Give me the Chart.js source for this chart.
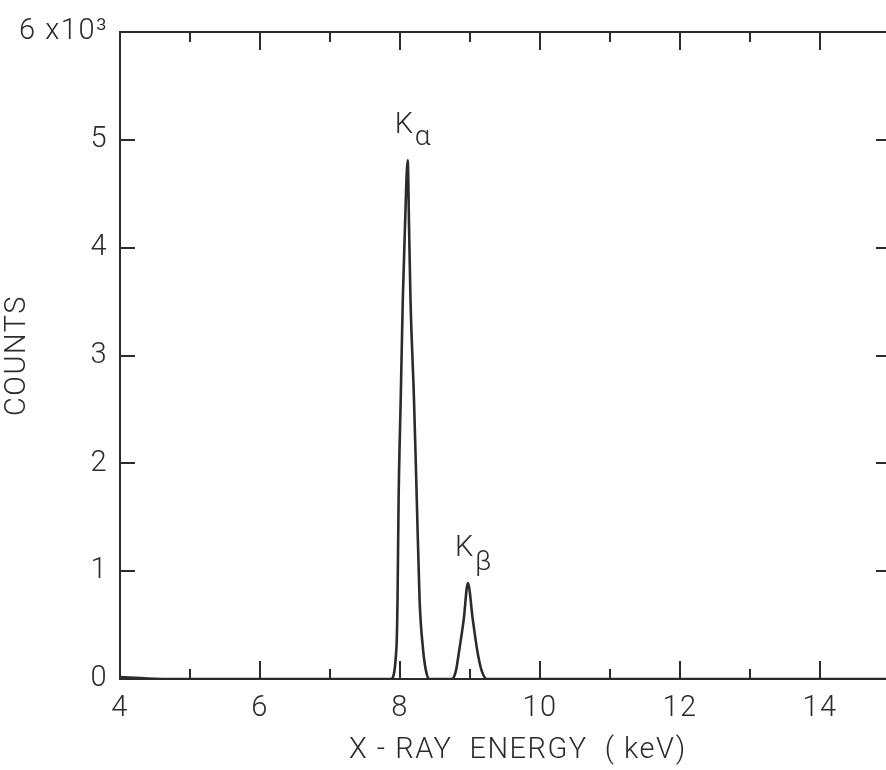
<!DOCTYPE html>
<html>
<head>
<meta charset="utf-8">
<script src="https://cdn.jsdelivr.net/npm/chart.js@4.4.1/dist/chart.umd.min.js"></script>
<style>
html, body { margin: 0; padding: 0; background: #fff; overflow: hidden; }
#wrap { width: 902px; height: 770px; }
</style>
</head>
<body>
<div id="wrap"><canvas id="spectrum" width="902" height="770"></canvas></div>
<script>
// X-ray spectrum (keV, counts)
const energy = [4.0, 4.4, 4.8, 7.87, 7.95, 7.965, 7.98, 8.01, 8.04, 8.07, 8.11, 8.13, 8.15, 8.20, 8.24, 8.28, 8.33, 8.37, 8.42,
                8.74, 8.80, 8.84, 8.91, 8.97, 9.04, 9.11, 9.17, 9.24, 15.0];
const counts = [18, 5, 0, 0, 300, 750, 1660, 2590, 3520, 4170, 4810, 4170, 3520, 2590, 1660, 730, 270, 80, 0,
                0, 80, 240, 550, 890, 550, 240, 70, 0, 0];

const yTickLabels = ['0', '1', '2', '3', '4', '5', '6 x10³'];
const xTickLabels = ['4', '', '6', '', '8', '', '10', '', '12', '', '14', ''];

const peakNames = ['K', 'K'];
const peakSubs = ['α', 'β'];
const peakEnergy = [8.11, 8.97];
const peakCounts = [4810, 890];

const INK = '#2b2b2b';
const FONT = 'Roboto';

const frame = {
    id: 'frame',
    beforeLayout(chart) {
        chart.ctx.letterSpacing = '1.5px';
    },
    beforeDraw(chart) {
        chart.ctx.letterSpacing = '1.5px';
    },
    afterDraw(chart) {
        const { ctx, chartArea: a, scales: { x, y } } = chart;
        ctx.save();
        ctx.strokeStyle = INK;
        ctx.lineWidth = 2;
        ctx.beginPath();
        ctx.moveTo(a.left, a.top);
        ctx.lineTo(a.right, a.top);
        ctx.lineTo(a.right, a.bottom);
        // inward ticks, long on even keV
        for (let v = 5; v < 15; v++) {
            const px = Math.round(x.getPixelForValue(v));
            const len = v % 2 === 0 ? 18 : 10;
            ctx.moveTo(px, a.bottom);
            ctx.lineTo(px, a.bottom - len);
            ctx.moveTo(px, a.top);
            ctx.lineTo(px, a.top + len);
        }
        for (let v = 1000; v < 6000; v += 1000) {
            const py = Math.round(y.getPixelForValue(v));
            ctx.moveTo(a.left, py);
            ctx.lineTo(a.left + 15, py);
            ctx.moveTo(a.right, py);
            ctx.lineTo(a.right - 14, py);
        }
        ctx.stroke();

        // K alpha / K beta labels
        ctx.fillStyle = INK;
        ctx.textAlign = 'left';
        ctx.textBaseline = 'alphabetic';
        peakNames.forEach((name, i) => {
            const px = x.getPixelForValue(peakEnergy[i]);
            const py = y.getPixelForValue(peakCounts[i]);
            ctx.font = `300 29px ${FONT}`;
            ctx.fillText(name, px - 13, py - 27);
            ctx.font = `300 28px ${FONT}`;
            ctx.fillText(peakSubs[i], px + 7, py - (i === 0 ? 15 : 13));
        });
        ctx.restore();
    }
};

const chart = new Chart(document.getElementById('spectrum'), {
    type: 'line',
    data: {
        datasets: [{
            data: energy.map((e, i) => ({ x: e, y: counts[i] })),
            borderColor: INK,
            borderWidth: 2.6,
            pointRadius: 0,
            cubicInterpolationMode: 'monotone',
            fill: false
        }]
    },
    options: {
        responsive: false,
        animation: false,
        layout: { autoPadding: false, padding: { top: 32, right: 12, left: 0, bottom: 0 } },
        plugins: {
            legend: { display: false },
            tooltip: { enabled: false }
        },
        scales: {
            x: {
                type: 'linear',
                min: 4,
                max: 15,
                grid: { display: false, drawTicks: false },
                border: { display: true, color: INK, width: 2 },
                ticks: {
                    stepSize: 1,
                    autoSkip: false,
                    maxRotation: 0,
                    padding: 12,
                    color: INK,
                    font: { family: FONT, size: 29, weight: '300' },
                    callback: (v, i) => xTickLabels[i]
                },
                title: {
                    display: true,
                    text: '   X - RAY  ENERGY  ( keV)',
                    color: INK,
                    font: { family: FONT, size: 29, weight: '300' },
                    padding: { top: 0, bottom: 2 }
                },
                afterFit: s => { s.height = 91; }
            },
            y: {
                min: 0,
                max: 6000,
                grid: { display: false, drawTicks: false },
                border: { display: true, color: INK, width: 2 },
                ticks: {
                    stepSize: 1000,
                    padding: 12,
                    color: INK,
                    font: { family: FONT, size: 29, weight: '300' },
                    callback: (v, i) => yTickLabels[i]
                },
                title: {
                    display: true,
                    text: 'COUNTS',
                    color: INK,
                    font: { family: FONT, size: 29, weight: '300' },
                    padding: { top: 0, bottom: 12 }
                },
                afterFit: s => { s.width = 120; }
            }
        }
    },
    plugins: [frame]
});
</script>
</body>
</html>
